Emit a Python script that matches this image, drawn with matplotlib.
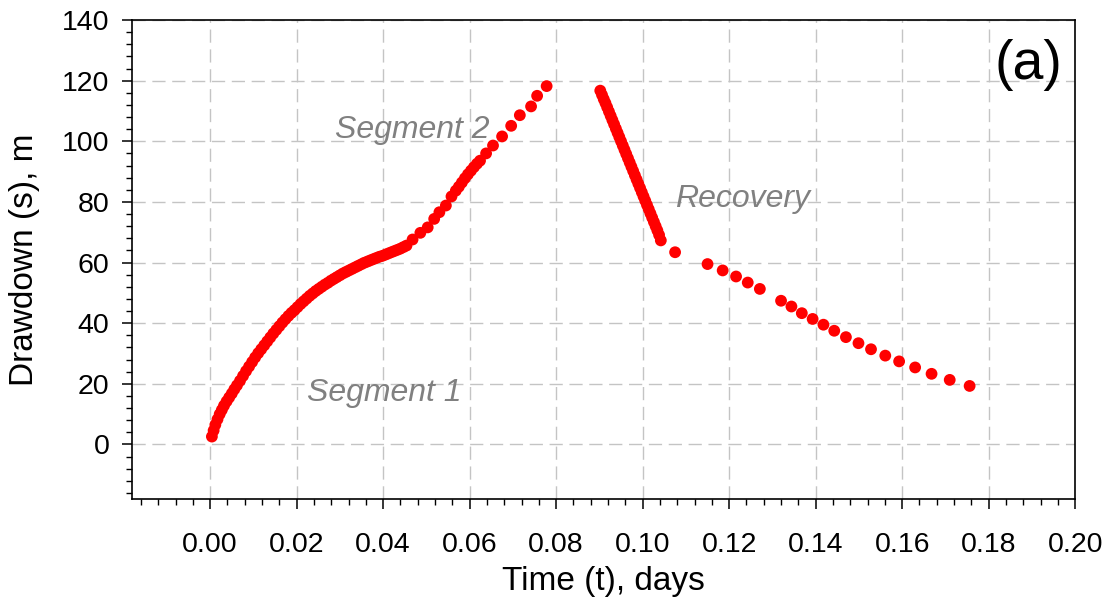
import matplotlib
matplotlib.use("Agg")
import matplotlib.pyplot as plt
from matplotlib.ticker import MultipleLocator, FormatStrFormatter

plt.rcParams['font.family'] = ['Liberation Sans', 'DejaVu Sans']

# Pumping phase, segment 1 (dense early record)
t_seg1 = [0.0004, 0.0008, 0.0012, 0.0017, 0.0022, 0.0027, 0.0032, 0.0038, 0.0044, 0.0050,
          0.0056, 0.0062, 0.0069, 0.0076, 0.0083, 0.0090, 0.0097, 0.0104, 0.0111, 0.0118,
          0.0125, 0.0132, 0.0139, 0.0146, 0.0153, 0.0160, 0.0167, 0.0174, 0.0181, 0.0188,
          0.0195, 0.0202, 0.0209, 0.0216, 0.0223, 0.0230, 0.0237, 0.0244, 0.0251, 0.0258,
          0.0265, 0.0272, 0.0279, 0.0286, 0.0293, 0.0300, 0.0307, 0.0314, 0.0321, 0.0328,
          0.0335, 0.0342, 0.0349, 0.0356, 0.0363, 0.0370, 0.0377, 0.0384, 0.0391, 0.0398,
          0.0405, 0.0412, 0.0419, 0.0426, 0.0433, 0.0440, 0.0447, 0.0454]
s_seg1 = [2.6, 4.6, 6.5, 8.3, 10.0, 11.4, 12.8, 14.2, 15.5, 16.8,
          18.2, 19.5, 21.0, 22.6, 24.2, 25.7, 27.2, 28.7, 30.1, 31.4,
          32.7, 34.0, 35.3, 36.6, 37.8, 39.0, 40.2, 41.3, 42.4, 43.4,
          44.3, 45.3, 46.3, 47.2, 48.1, 49.0, 49.8, 50.6, 51.3, 52.0,
          52.7, 53.3, 54.0, 54.6, 55.2, 55.8, 56.4, 56.9, 57.4, 57.9,
          58.4, 58.9, 59.4, 59.9, 60.3, 60.7, 61.1, 61.5, 61.9, 62.2,
          62.6, 63.0, 63.4, 63.8, 64.2, 64.6, 65.1, 65.6]

# Pumping phase, segment 2
t_seg2 = [0.0468, 0.0486, 0.0503, 0.0518, 0.0530, 0.0545, 0.0558, 0.0568, 0.0575, 0.0582,
          0.0589, 0.0596, 0.0603, 0.0610, 0.0617, 0.0624, 0.0638, 0.0654, 0.0675, 0.0696,
          0.0716, 0.0742, 0.0756, 0.0778]
s_seg2 = [67.6, 69.8, 71.6, 74.4, 76.6, 78.8, 81.8, 83.7, 85.0, 86.4,
          87.8, 89.1, 90.3, 91.5, 92.6, 93.6, 96.0, 98.6, 101.6, 105.1,
          108.6, 111.5, 115.0, 118.2]

# Recovery phase
t_rec = [0.0902, 0.0906, 0.0910, 0.0914, 0.0918, 0.0922, 0.0926, 0.0930, 0.0934, 0.0938,
         0.0942, 0.0946, 0.0950, 0.0954, 0.0958, 0.0962, 0.0966, 0.0970, 0.0974, 0.0978,
         0.0982, 0.0986, 0.0990, 0.0994, 0.0998, 0.1002, 0.1006, 0.1010, 0.1014, 0.1018,
         0.1022, 0.1026, 0.1030, 0.1034, 0.1038, 0.1042,
         0.1075, 0.1150, 0.1185, 0.1216, 0.1243, 0.1271, 0.1320, 0.1344, 0.1368, 0.1393,
         0.1418, 0.1443, 0.1470, 0.1499, 0.1528, 0.1561, 0.1593, 0.1630, 0.1668, 0.1710,
         0.1756]
s_rec = [116.7, 115.3, 113.9, 112.6, 111.2, 109.8, 108.4, 107.0, 105.6, 104.2,
         102.8, 101.4, 100.0, 98.6, 97.2, 95.8, 94.4, 93.0, 91.6, 90.2,
         88.8, 87.4, 86.0, 84.6, 83.2, 81.8, 80.4, 79.0, 77.6, 76.2,
         74.8, 73.4, 72.0, 70.6, 69.1, 67.3,
         63.4, 59.5, 57.4, 55.4, 53.4, 51.3, 47.4, 45.5, 43.3, 41.4,
         39.5, 37.5, 35.4, 33.4, 31.4, 29.3, 27.4, 25.4, 23.3, 21.3,
         19.3]

x_ticks = [0.00, 0.02, 0.04, 0.06, 0.08, 0.10, 0.12, 0.14, 0.16, 0.18, 0.20]
y_ticks = [0, 20, 40, 60, 80, 100, 120, 140]

fig = plt.figure(figsize=(11.10, 5.99), dpi=100)
ax = fig.add_axes([0.1192, 0.1669, 0.8494, 0.7997])

dot = dict(s=72, color='#ff0000', edgecolors='none', zorder=3)
ax.scatter(t_seg1, s_seg1, **dot)
ax.scatter(t_seg2, s_seg2, **dot)
ax.scatter(t_rec, s_rec, **dot)

ax.set_xlim(-0.018, 0.20)
ax.set_ylim(-18, 140)
ax.set_xticks(x_ticks)
ax.set_yticks(y_ticks)
ax.xaxis.set_major_formatter(FormatStrFormatter('%.2f'))
ax.xaxis.set_minor_locator(MultipleLocator(0.004))
ax.yaxis.set_minor_locator(MultipleLocator(4))

ax.grid(True, which='major', color='#c4c4c4', linewidth=1.0,
        linestyle=(0, (9.5, 4.8)), zorder=0)
ax.set_axisbelow(True)

for sp in ax.spines.values():
    sp.set_linewidth(1.2)
    sp.set_color('black')

ax.tick_params(which='major', direction='out', length=7.5, width=1.1,
               labelsize=20.5, top=False, right=False)
ax.tick_params(axis='x', which='major', pad=16)
ax.tick_params(axis='y', which='major', pad=9)
ax.tick_params(which='minor', direction='out', length=4.3, width=1.0,
               top=False, right=False)

ax.set_xlabel('Time (t), days', fontsize=24, labelpad=6)
ax.set_ylabel('Drawdown (s), m', fontsize=24, labelpad=16)

note = dict(fontsize=23, style='italic', color='#808080', va='center', ha='left')
ax.text(0.0224, 17.0, 'Segment 1', **note)
ax.text(0.0289, 103.7, 'Segment 2', **note)
ax.text(0.1075, 81.0, 'Recovery', **note)

ax.text(0.986, 0.96, '(a)', transform=ax.transAxes, fontsize=40,
        ha='right', va='top', color='black')

fig.savefig('out.png', dpi=100)
